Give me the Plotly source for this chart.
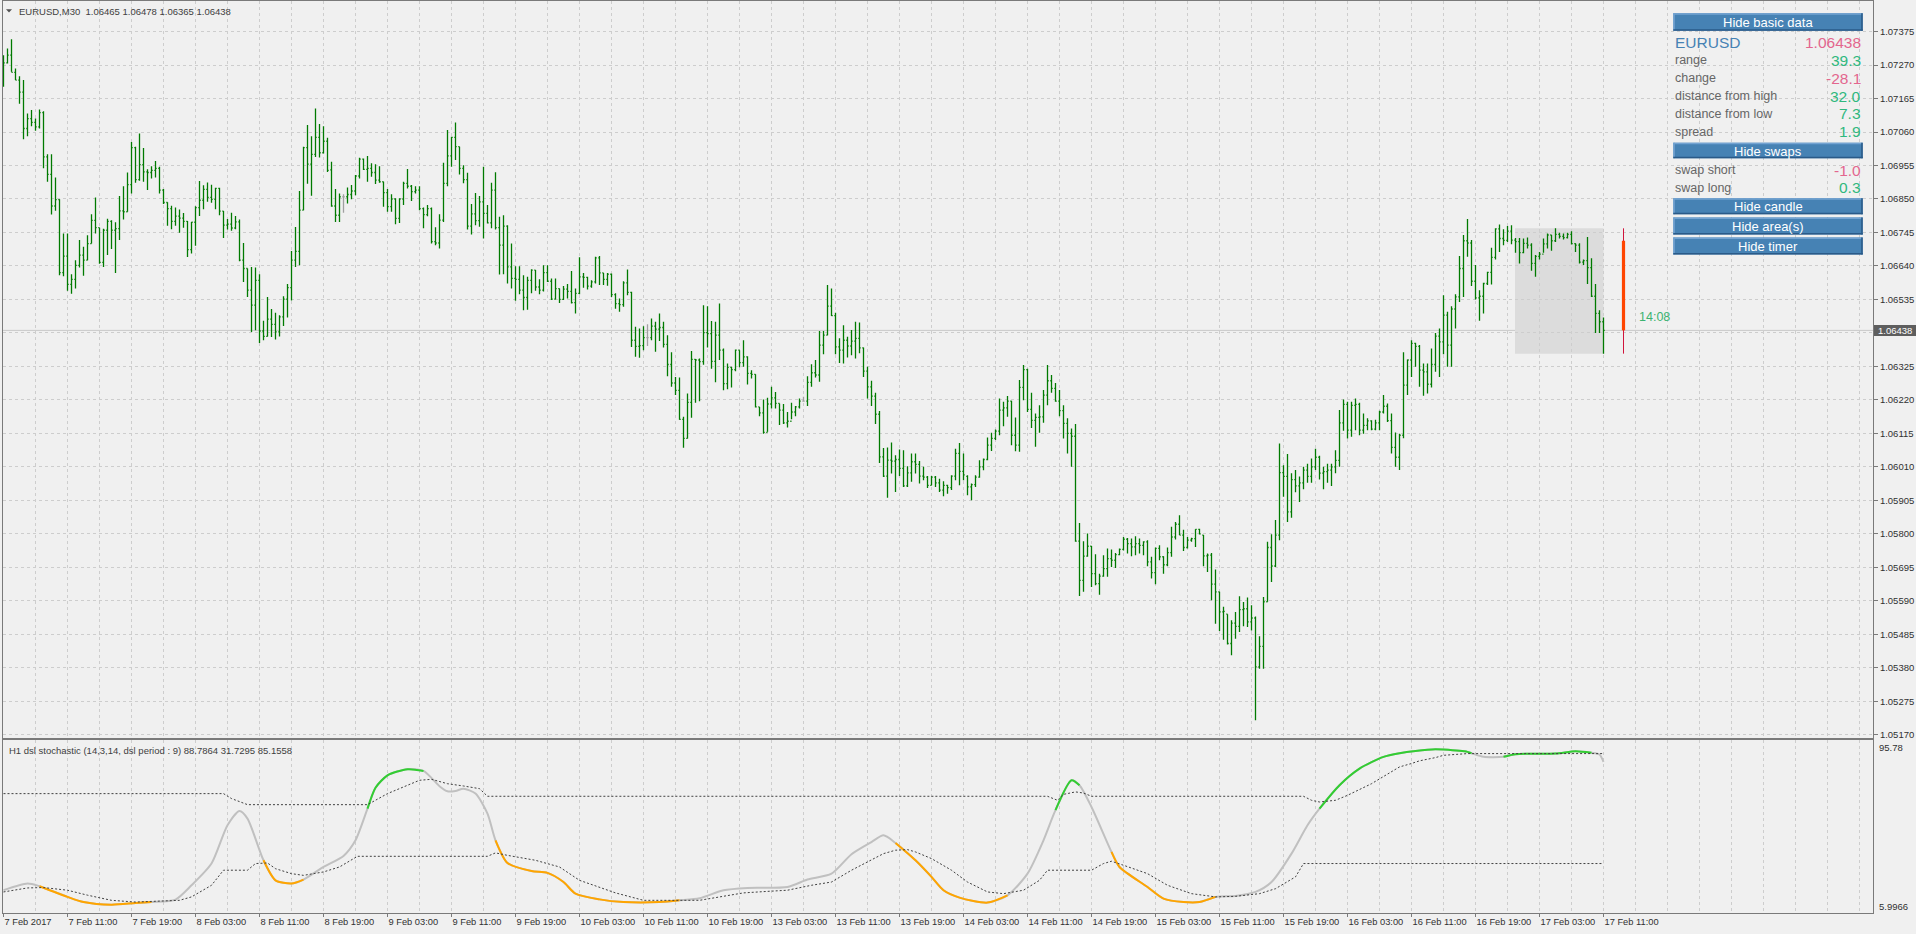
import plotly.graph_objects as go

# ======================= DATA =======================
symbol = "EURUSD"
period = "M30"
header_values = ["1.06465", "1.06478", "1.06365", "1.06438"]

date_label_bars = [0, 16, 32, 48, 64, 80, 96, 112, 128, 144, 160, 176, 192,
                   208, 224, 240, 256, 272, 288, 304, 320, 336, 352, 368, 384, 400]
date_labels = ["7 Feb 2017", "7 Feb 11:00", "7 Feb 19:00", "8 Feb 03:00", "8 Feb 11:00",
               "8 Feb 19:00", "9 Feb 03:00", "9 Feb 11:00", "9 Feb 19:00", "10 Feb 03:00",
               "10 Feb 11:00", "10 Feb 19:00", "13 Feb 03:00", "13 Feb 11:00", "13 Feb 19:00",
               "14 Feb 03:00", "14 Feb 11:00", "14 Feb 19:00", "15 Feb 03:00", "15 Feb 11:00",
               "15 Feb 19:00", "16 Feb 03:00", "16 Feb 11:00", "16 Feb 19:00", "17 Feb 03:00",
               "17 Feb 11:00"]

price_ticks = [1.05170, 1.05275, 1.05380, 1.05485, 1.05590, 1.05695, 1.05800, 1.05905,
               1.06010, 1.06115, 1.06220, 1.06325, 1.06430, 1.06535, 1.06640, 1.06745,
               1.06850, 1.06955, 1.07060, 1.07165, 1.07270, 1.07375]

# M30 bars, prices in points (1e-5)
opens = [
    107254, 107277, 107301, 107247, 107223, 107185, 107071, 107102, 107090, 107076,
    107121, 106982, 106927, 106828, 106848, 106619, 106671, 106582, 106598, 106642,
    106674, 106658, 106710, 106783, 106760, 106651, 106752, 106780, 106752, 106757,
    106813, 106810, 106895, 107011, 106911, 106958, 106935, 106933, 106940, 106946,
    106878, 106839, 106820, 106780, 106796, 106790, 106780, 106691, 106777, 106823,
    106846, 106880, 106855, 106849, 106883, 106812, 106768, 106771, 106759, 106778,
    106658, 106632, 106564, 106517, 106595, 106436, 106419, 106473, 106457, 106433,
    106480, 106536, 106572, 106658, 106686, 106815, 107011, 106959, 106990, 107043,
    106995, 107031, 106941, 106828, 106799, 106857, 106857, 106864, 106875, 106922,
    106975, 106943, 106946, 106933, 106909, 106904, 106870, 106826, 106850, 106789,
    106850, 106899, 106890, 106873, 106878, 106820, 106801, 106820, 106716, 106712,
    106784, 106899, 106985, 107043, 107014, 106946, 106911, 106765, 106803, 106782,
    106841, 106805, 106775, 106878, 106760, 106705, 106765, 106637, 106601, 106598,
    106564, 106541, 106595, 106627, 106574, 106564, 106619, 106592, 106536, 106569,
    106535, 106567, 106560, 106525, 106554, 106606, 106604, 106577, 106590, 106665,
    106618, 106598, 106614, 106550, 106522, 106519, 106587, 106557, 106407, 106388,
    106390, 106415, 106415, 106451, 106442, 106447, 106394, 106331, 106273, 106250,
    106159, 106099, 106212, 106347, 106345, 106340, 106431, 106428, 106341, 106423,
    106376, 106271, 106322, 106315, 106376, 106337, 106355, 106303, 106300, 106198,
    106179, 106118, 106207, 106226, 106209, 106188, 106148, 106153, 106182, 106198,
    106216, 106216, 106275, 106305, 106298, 106392, 106423, 106514, 106484, 106386,
    106376, 106407, 106389, 106404, 106413, 106383, 106310, 106261, 106232, 106175,
    106041, 105981, 106031, 106028, 106033, 106005, 105950, 105991, 106026, 106018,
    105981, 105978, 105952, 105978, 105960, 105937, 105952, 105945, 105981, 106052,
    105996, 105980, 105947, 105954, 105978, 106010, 106033, 106078, 106099, 106122,
    106188, 106195, 106216, 106109, 106078, 106259, 106315, 106190, 106156, 106165,
    106167, 106235, 106280, 106256, 106216, 106186, 106146, 106115, 106106, 105777,
    105654, 105730, 105761, 105675, 105644, 105667, 105691, 105722, 105717, 105735,
    105751, 105783, 105769, 105759, 105769, 105764, 105775, 105712, 105678, 105754,
    105728, 105703, 105741, 105790, 105830, 105796, 105757, 105780, 105785, 105814,
    105796, 105731, 105733, 105642, 105618, 105555, 105548, 105456, 105520, 105510,
    105562, 105565, 105524, 105536, 105383, 105447, 105587, 105757, 105699, 105796,
    105992, 105980, 105869, 105970, 105950, 105960, 106000, 105980, 106010, 106040,
    105990, 105995, 106000, 106010, 106030, 106148, 106206, 106125, 106203, 106206,
    106125, 106140, 106154, 106128, 106148, 106182, 106200, 106155, 106071, 106040,
    106109, 106266, 106345, 106397, 106388, 106313, 106308, 106269, 106331, 106420,
    106402, 106486, 106392, 106505, 106543, 106632, 106719, 106712, 106592, 106540,
    106545, 106585, 106620, 106667, 106756, 106726, 106720, 106749, 106721, 106716,
    106682, 106711, 106705, 106648, 106670, 106677, 106709, 106737, 106719, 106739,
    106733, 106729, 106739, 106710, 106705, 106652, 106657, 106635, 106545, 106491, 106465]
highs = [
    107301, 107322, 107351, 107259, 107235, 107223, 107118, 107129, 107102, 107131,
    107125, 106990, 106990, 106917, 106849, 106742, 106742, 106614, 106658, 106721,
    106700, 106736, 106802, 106855, 106760, 106757, 106788, 106783, 106777, 106859,
    106890, 106933, 107029, 107014, 107055, 107010, 106943, 106953, 106969, 106951,
    106881, 106840, 106829, 106823, 106817, 106806, 106781, 106778, 106827, 106906,
    106893, 106902, 106895, 106885, 106885, 106812, 106787, 106807, 106797, 106786,
    106712, 106632, 106637, 106635, 106614, 106468, 106543, 106505, 106493, 106485,
    106545, 106583, 106687, 106762, 106875, 107014, 107082, 107047, 107134, 107085,
    107078, 107042, 106967, 106881, 106867, 106865, 106886, 106894, 106925, 106979,
    106977, 106985, 106962, 106959, 106953, 106904, 106881, 106865, 106852, 106852,
    106904, 106944, 106894, 106890, 106890, 106823, 106831, 106823, 106761, 106802,
    106964, 107066, 107045, 107090, 107014, 106956, 106932, 106834, 106869, 106859,
    106951, 106831, 106901, 106934, 106794, 106799, 106768, 106710, 106639, 106639,
    106611, 106606, 106630, 106627, 106598, 106642, 106642, 106601, 106601, 106569,
    106577, 106583, 106624, 106569, 106667, 106618, 106606, 106595, 106669, 106671,
    106618, 106618, 106616, 106554, 106538, 106592, 106629, 106559, 106449, 106444,
    106451, 106457, 106475, 106465, 106491, 106465, 106423, 106369, 106292, 106290,
    106167, 106240, 106373, 106348, 106350, 106517, 106514, 106467, 106465, 106522,
    106381, 106334, 106324, 106378, 106376, 106407, 106357, 106313, 106300, 106198,
    106221, 106227, 106261, 106245, 106209, 106207, 106182, 106211, 106201, 106224,
    106230, 106294, 106332, 106345, 106436, 106436, 106580, 106569, 106493, 106413,
    106454, 106418, 106439, 106465, 106463, 106384, 106324, 106280, 106242, 106185,
    106069, 106071, 106086, 106046, 106064, 106062, 106012, 106052, 106052, 106028,
    106010, 105981, 105981, 105981, 105973, 105965, 105954, 105984, 106067, 106085,
    106052, 105984, 105958, 105984, 106031, 106036, 106102, 106117, 106127, 106224,
    106214, 106232, 106217, 106165, 106282, 106329, 106318, 106242, 106177, 106203,
    106251, 106329, 106298, 106273, 106251, 106203, 106162, 106130, 106144, 105834,
    105777, 105801, 105762, 105736, 105675, 105733, 105754, 105751, 105740, 105754,
    105790, 105787, 105785, 105792, 105785, 105777, 105780, 105728, 105757, 105764,
    105730, 105757, 105822, 105837, 105858, 105813, 105790, 105788, 105814, 105816,
    105796, 105738, 105740, 105688, 105618, 105571, 105548, 105529, 105555, 105604,
    105586, 105600, 105576, 105541, 105479, 105602, 105775, 105799, 105843, 106083,
    106015, 106050, 105990, 106000, 105980, 106010, 106020, 106036, 106067, 106045,
    106010, 106020, 106020, 106062, 106188, 106221, 106214, 106214, 106224, 106211,
    106177, 106162, 106156, 106158, 106186, 106235, 106209, 106177, 106118, 106114,
    106369, 106347, 106407, 106399, 106392, 106334, 106334, 106381, 106430, 106444,
    106548, 106496, 106514, 106551, 106671, 106737, 106787, 106721, 106643, 106564,
    106587, 106622, 106697, 106758, 106770, 106755, 106765, 106768, 106728, 106728,
    106726, 106729, 106711, 106674, 106684, 106726, 106742, 106737, 106758, 106744,
    106742, 106744, 106749, 106711, 106711, 106660, 106731, 106664, 106583, 106501, 106478]
lows = [
    107202, 107275, 107249, 107223, 107149, 107037, 107047, 107078, 107064, 107071,
    106946, 106904, 106801, 106813, 106611, 106608, 106562, 106553, 106569, 106635,
    106609, 106658, 106710, 106742, 106647, 106637, 106674, 106693, 106618, 106721,
    106786, 106810, 106867, 106901, 106907, 106904, 106878, 106914, 106917, 106867,
    106834, 106766, 106755, 106766, 106744, 106760, 106668, 106679, 106703, 106797,
    106818, 106841, 106838, 106818, 106799, 106728, 106754, 106750, 106755, 106655,
    106590, 106543, 106433, 106438, 106398, 106407, 106419, 106417, 106409, 106419,
    106452, 106478, 106532, 106637, 106642, 106815, 106898, 106860, 106982, 106980,
    106993, 106935, 106826, 106778, 106778, 106807, 106836, 106849, 106862, 106914,
    106941, 106904, 106920, 106897, 106901, 106826, 106810, 106810, 106771, 106775,
    106831, 106883, 106844, 106867, 106815, 106758, 106796, 106710, 106705, 106695,
    106778, 106890, 106951, 106972, 106927, 106899, 106754, 106739, 106768, 106763,
    106726, 106773, 106758, 106754, 106613, 106614, 106585, 106569, 106531, 106551,
    106501, 106503, 106554, 106562, 106551, 106560, 106590, 106533, 106535, 106524,
    106533, 106538, 106522, 106491, 106551, 106572, 106566, 106572, 106585, 106580,
    106580, 106578, 106543, 106506, 106496, 106512, 106548, 106386, 106355, 106352,
    106376, 106389, 106407, 106371, 106405, 106384, 106294, 106261, 106235, 106158,
    106070, 106099, 106164, 106211, 106216, 106330, 106384, 106318, 106275, 106345,
    106250, 106253, 106259, 106310, 106322, 106324, 106268, 106287, 106196, 106169,
    106114, 106120, 106193, 106193, 106141, 106144, 106133, 106159, 106169, 106193,
    106214, 106201, 106261, 106290, 106277, 106363, 106423, 106483, 106363, 106336,
    106334, 106353, 106360, 106350, 106366, 106292, 106224, 106201, 106144, 106022,
    105978, 105913, 105989, 105931, 105981, 105947, 105947, 105963, 105989, 105958,
    105968, 105944, 105952, 105947, 105931, 105918, 105926, 105937, 105968, 105952,
    105968, 105921, 105905, 105947, 105976, 105999, 106031, 106060, 106094, 106109,
    106137, 106167, 106078, 106059, 106057, 106219, 106182, 106132, 106073, 106117,
    106148, 106203, 106242, 106214, 106169, 106099, 106052, 106010, 105775, 105605,
    105618, 105728, 105633, 105639, 105609, 105665, 105665, 105696, 105693, 105733,
    105748, 105738, 105730, 105733, 105738, 105733, 105698, 105660, 105642, 105717,
    105675, 105698, 105728, 105782, 105796, 105746, 105754, 105775, 105759, 105798,
    105698, 105680, 105592, 105518, 105495, 105468, 105453, 105419, 105471, 105492,
    105510, 105508, 105497, 105215, 105377, 105377, 105587, 105649, 105696, 105780,
    105916, 105837, 105850, 105930, 105900, 105940, 105960, 105960, 106000, 105970,
    105940, 105960, 105950, 105990, 106010, 106123, 106099, 106104, 106125, 106109,
    106114, 106125, 106125, 106125, 106125, 106177, 106151, 106052, 106010, 106000,
    106100, 106235, 106292, 106324, 106261, 106233, 106240, 106259, 106308, 106292,
    106363, 106324, 106324, 106444, 106527, 106543, 106669, 106577, 106535, 106468,
    106491, 106580, 106582, 106660, 106684, 106705, 106715, 106708, 106681, 106648,
    106680, 106695, 106625, 106606, 106660, 106681, 106695, 106688, 106715, 106726,
    106723, 106726, 106707, 106684, 106648, 106643, 106583, 106543, 106430, 106430, 106365]
closes = [
    107277, 107301, 107247, 107223, 107185, 107071, 107102, 107090, 107076, 107121,
    106982, 106927, 106828, 106848, 106619, 106671, 106582, 106598, 106642, 106674,
    106658, 106710, 106783, 106760, 106651, 106752, 106780, 106752, 106757, 106813,
    106810, 106895, 107011, 106911, 106958, 106935, 106933, 106940, 106946, 106878,
    106839, 106820, 106780, 106796, 106790, 106780, 106691, 106777, 106823, 106846,
    106880, 106855, 106849, 106883, 106812, 106768, 106771, 106759, 106778, 106658,
    106632, 106564, 106517, 106595, 106436, 106419, 106473, 106457, 106433, 106480,
    106536, 106572, 106658, 106686, 106815, 107011, 106959, 106990, 107043, 106995,
    107031, 106940, 106828, 106799, 106857, 106857, 106864, 106875, 106922, 106975,
    106943, 106946, 106933, 106909, 106904, 106870, 106826, 106850, 106789, 106850,
    106899, 106890, 106873, 106878, 106820, 106801, 106820, 106716, 106712, 106784,
    106899, 106985, 107043, 107014, 106946, 106911, 106765, 106803, 106782, 106841,
    106805, 106775, 106878, 106760, 106705, 106765, 106637, 106601, 106598, 106564,
    106541, 106595, 106627, 106574, 106564, 106619, 106592, 106536, 106569, 106535,
    106567, 106560, 106525, 106554, 106606, 106604, 106577, 106590, 106665, 106618,
    106598, 106614, 106550, 106522, 106519, 106587, 106557, 106407, 106388, 106390,
    106415, 106415, 106451, 106442, 106447, 106394, 106331, 106273, 106250, 106159,
    106099, 106212, 106347, 106345, 106340, 106431, 106428, 106341, 106423, 106376,
    106271, 106322, 106315, 106376, 106337, 106355, 106303, 106300, 106198, 106179,
    106118, 106207, 106226, 106209, 106188, 106148, 106153, 106182, 106198, 106216,
    106216, 106275, 106305, 106298, 106392, 106423, 106514, 106484, 106386, 106376,
    106407, 106389, 106404, 106413, 106383, 106310, 106261, 106232, 106175, 106041,
    105981, 106031, 106028, 106033, 106005, 105950, 105991, 106026, 106018, 105981,
    105978, 105952, 105978, 105960, 105937, 105952, 105945, 105981, 106052, 105996,
    105985, 105947, 105954, 105978, 106010, 106033, 106078, 106099, 106122, 106188,
    106195, 106216, 106109, 106078, 106259, 106315, 106190, 106156, 106165, 106167,
    106235, 106280, 106256, 106216, 106186, 106146, 106115, 106106, 105777, 105654,
    105730, 105761, 105675, 105644, 105667, 105691, 105722, 105717, 105735, 105751,
    105783, 105769, 105759, 105769, 105764, 105775, 105712, 105678, 105754, 105728,
    105703, 105741, 105790, 105830, 105796, 105757, 105780, 105785, 105814, 105800,
    105731, 105733, 105642, 105618, 105555, 105557, 105456, 105520, 105510, 105562,
    105565, 105524, 105536, 105383, 105447, 105587, 105757, 105699, 105796, 105992,
    105980, 105869, 105970, 105950, 105960, 106000, 105980, 106010, 106040, 105990,
    105995, 106000, 106010, 106030, 106148, 106206, 106125, 106203, 106206, 106125,
    106140, 106154, 106128, 106148, 106182, 106200, 106155, 106071, 106040, 106109,
    106266, 106345, 106397, 106388, 106313, 106308, 106269, 106331, 106420, 106402,
    106486, 106392, 106505, 106543, 106632, 106719, 106712, 106592, 106540, 106545,
    106585, 106620, 106667, 106756, 106726, 106720, 106749, 106721, 106716, 106682,
    106711, 106705, 106648, 106670, 106677, 106709, 106737, 106719, 106739, 106733,
    106729, 106739, 106710, 106705, 106652, 106657, 106635, 106545, 106491, 106465, 106438]

# H1 DSL stochastic (sampled along the bar index)
stoch_bar = [0, 6, 9, 16, 20, 27, 33, 37, 43, 47, 52, 56, 59, 61, 65, 68, 72, 75, 80, 85,
             88, 91, 93, 96, 101, 105, 109, 111, 113, 115, 118, 121, 123, 126, 132, 136, 140, 143, 149, 155,
             164, 169, 174, 180, 186, 196, 201, 207, 212, 217, 220, 223, 228, 232, 235, 239, 246, 251, 256, 260,
             263, 267, 269, 272, 277, 279, 286, 290, 295, 299, 303, 308, 313, 317, 322, 326, 329, 334, 339, 345,
             349, 353, 358, 360, 366, 367, 370, 375, 378, 388, 393, 397, 399, 400]
stoch_val = [17.6, 21.1, 19.7, 14.1, 11.4, 10.0, 10.9, 11.4, 12.7, 20.2,
             31.6, 51.7, 59.2, 55.2, 33.3, 22.8, 21.1, 23.2, 29.8, 35.6,
             43.8, 60.4, 71.4, 77.9, 81.1, 80.2, 72.2, 69.5, 69.7, 70.9,
             68.3, 57.8, 43.8, 31.9, 27.7, 26.7, 21.9, 15.8, 12.8, 11.4,
             11.4, 12.3, 13.4, 17.6, 18.8, 19.3, 23.2, 26.3, 36.5, 42.9,
             46.4, 42.4, 33.3, 24.6, 17.6, 13.7, 11.1, 14.9, 26.3, 43.8,
             59.6, 75.3, 72.7, 61.3, 37.7, 29.8, 19.3, 13.2, 11.4, 11.4,
             14.1, 14.6, 16.7, 21.9, 36.8, 51.7, 60.4, 72.7, 81.4, 87.6,
             89.5, 90.7, 91.6, 91.4, 90.2, 89.5, 87.6, 87.6, 89.0, 89.3,
             90.5, 89.7, 88.8, 84.9]
# state of each segment: s = neutral, o = below lower level, g = above upper level
stoch_state = ("ssooooosss" "ssssooosss" "sggggsssss" "ssoooooooo" "osssssssss"
               "soooooosss" "ggssoooooo" "ssssssgggg" "gggggssggg" "gsss")

upper_bar = [0, 55, 57, 61, 91, 93, 96, 100, 104, 107, 111, 115, 119, 121, 261, 263.5, 265, 268,
             270, 272, 325, 327, 329, 333, 336, 342, 349, 352, 354, 358, 360, 366, 400]
upper_val = [68.3, 68.3, 65.7, 62.5, 62.5, 64.8, 68.3, 71.8, 75.3, 75.8, 73.5, 72.3, 70.9, 66.9,
             66.9, 64.8, 67.9, 69.2, 68.6, 66.9, 66.9, 64.8, 63.9, 64.8, 67.4, 73.5, 82.3, 84.1,
             85.5, 87.2, 88.4, 89.3, 89.3]
lower_bar = [0, 6, 10, 16, 21, 27, 33, 44, 47, 52, 55, 61, 63, 66, 68, 72, 75, 80, 84, 87,
             88.5, 121, 123, 126, 133, 139, 144, 153, 160, 174, 181, 185, 191, 196, 202, 207, 212, 217, 220, 223,
             226, 228, 232, 237, 241, 246, 250, 255, 259, 261, 272, 275, 277, 280, 286, 291, 297, 303, 308, 314,
             318, 323, 325, 400]
lower_val = [16.7, 18.8, 19.0, 17.6, 15.0, 12.3, 11.4, 12.3, 14.1, 20.2,
             28.1, 28.1, 31.6, 31.9, 28.9, 26.3, 25.4, 27.2, 29.8, 33.3,
             35.4, 35.4, 37.2, 35.9, 33.3, 29.8, 22.8, 16.2, 12.3, 12.3,
             14.9, 16.2, 17.0, 17.6, 20.2, 21.9, 28.1, 33.3, 36.8, 38.6,
             38.9, 37.7, 34.2, 28.1, 21.9, 16.7, 15.8, 17.6, 22.8, 28.1,
             28.1, 31.6, 32.8, 30.7, 26.3, 20.2, 15.8, 14.1, 14.4, 15.8,
             18.4, 24.6, 31.6, 31.6]
stoch_title = "H1 dsl stochastic (14,3,14, dsl period : 9) 88.7864 31.7295 85.1558"
stoch_scale_labels = ["95.78", "5.9966"]

# daily candle / today's area
day_open, day_high, day_low = 1.06719, 1.06758, 1.06365
area_first_bar = 378
candle_bar = 405
timer_text = "14:08"
spread, swap_short, swap_long = 1.9, -1.0, 0.3
buttons = ["Hide basic data", "Hide swaps", "Hide candle", "Hide area(s)", "Hide timer"]

# ======================= STYLE / GEOMETRY =======================
W, H = 1916, 934
PL, PR = 3, 1873
PT, PB = 1, 912.7
TOP_BOT_PX, SUB_TOP_PX = 737.5, 740
PH = PB - PT
BG = "#F0F0F0"
GRID = "#CDCDCD"
AXIS = "#7A7A7A"
TXT = "#303030"
GREEN = "#007A00"
DOJI = "#A0A0A0"
FONT = "Liberation Sans, Arial, sans-serif"
PINK = "#E3668E"
VGREEN = "#2FB87E"
STEEL = "#4682B4"


def fx(px):
    return (px - PL) / (PR - PL)


def fy(py):
    return (PB - py) / PH


XR = [-0.125, 467.375]
YR_PRICE = [1.07474 - TOP_BOT_PX * 3.137e-5, 1.07474 - PT * 3.137e-5]
YR_STOCH = [95.78 - (PB - 741) / 1.905, 95.78 + (741 - SUB_TOP_PX) / 1.905]

o = [v / 1e5 for v in opens]
h = [v / 1e5 for v in highs]
l = [v / 1e5 for v in lows]
c = [v / 1e5 for v in closes]
idx = list(range(len(c)))
last = c[-1]

fig = go.Figure()

norm = [i for i in idx if opens[i] != closes[i]]
doji = [i for i in idx if opens[i] == closes[i]]
for sel, col in ((norm, GREEN), (doji, DOJI)):
    fig.add_trace(go.Ohlc(
        x=[idx[i] for i in sel], open=[o[i] for i in sel], high=[h[i] for i in sel],
        low=[l[i] for i in sel], close=[c[i] for i in sel],
        increasing=dict(line=dict(color=col, width=1.3)),
        decreasing=dict(line=dict(color=col, width=1.3)),
        tickwidth=0.3, hoverinfo="skip", xaxis="x", yaxis="y", showlegend=False))

# stochastic main line (gray base + coloured runs)
fig.add_trace(go.Scatter(x=stoch_bar, y=stoch_val, mode="lines", xaxis="x2", yaxis="y2",
                         line=dict(color="#C0C0C0", width=2, shape="spline", smoothing=0.7),
                         hoverinfo="skip", showlegend=False))
n = len(stoch_bar)
i = 0
while i < n - 1:
    s = stoch_state[i]
    if s in "og":
        j = i
        while j < n - 1 and stoch_state[j] == s:
            j += 1
        fig.add_trace(go.Scatter(x=stoch_bar[i:j + 1], y=stoch_val[i:j + 1], mode="lines",
                                 xaxis="x2", yaxis="y2", hoverinfo="skip", showlegend=False,
                                 line=dict(color="#FFA500" if s == "o" else "#32CD32", width=2,
                                           shape="spline", smoothing=0.7)))
        i = j
    else:
        i += 1
for xb, yv in ((upper_bar, upper_val), (lower_bar, lower_val)):
    fig.add_trace(go.Scatter(x=xb, y=yv, mode="lines", xaxis="x2", yaxis="y2",
                             line=dict(color="#404040", width=1, dash="2px,2px"),
                             hoverinfo="skip", showlegend=False))

shapes = []
# today's area box
shapes.append(dict(type="rect", xref="x", yref="y", x0=area_first_bar - 0.125, x1=idx[-1],
                   y0=day_low, y1=day_high, fillcolor="#DCDCDC", line=dict(width=0), layer="below"))
# current price line
shapes.append(dict(type="line", xref="paper", yref="y", x0=0, x1=1, y0=last, y1=last,
                   line=dict(color="#C8C8C8", width=1), layer="below"))
# daily candle
shapes.append(dict(type="line", xref="x", yref="y", x0=candle_bar, x1=candle_bar, y0=day_low, y1=day_high,
                   line=dict(color="#D0143C", width=1)))
shapes.append(dict(type="rect", xref="x", yref="y", x0=candle_bar - 0.4, x1=candle_bar + 0.4,
                   y0=last, y1=day_open, fillcolor="#FF4500", line=dict(width=0)))
# header triangle
shapes.append(dict(type="path", xref="paper", yref="paper",
                   path=f"M {fx(6)} {fy(9.3)} L {fx(12)} {fy(9.3)} L {fx(9)} {fy(12.5)} Z",
                   fillcolor="#505050", line=dict(width=0)))
# current price box on axis
shapes.append(dict(type="rect", xref="paper", yref="paper", x0=fx(1874), x1=fx(1916),
                   y0=fy(336), y1=fy(325), fillcolor="#5E5E5E", line=dict(width=0)))

annotations = []


def txt(x, y, t, size, color, xanchor="left", family=FONT):
    annotations.append(dict(xref="paper", yref="paper", x=fx(x), y=fy(y), text=t, showarrow=False,
                            xanchor=xanchor, yanchor="middle", font=dict(family=family, size=size, color=color)))


txt(17, 11, f"{symbol},{period}  " + " ".join(header_values), 9.5, "#404040")
txt(7, 750, stoch_title, 9.5, "#404040")
txt(1877, 747.7, stoch_scale_labels[0], 9.5, TXT)
txt(1877, 906.7, stoch_scale_labels[1], 9.5, TXT)
txt(1876, 330.5, f"{last:.5f}", 9.5, "#FFFFFF")
annotations.append(dict(xref="x", yref="y", x=candle_bar + 3.4, y=1.06480, text=timer_text, showarrow=False,
                        xanchor="left", yanchor="middle", font=dict(family=FONT, size=12.5, color="#3CB371")))

# info panel
BX0, BX1 = 1673.3, 1862.7
btn_rows = [(13.3, 30.7), (142.7, 158.3), (198.3, 214.3), (217.5, 234.3), (237.3, 254.3)]
for label, (y0, y1) in zip(buttons, btn_rows):
    shapes.append(dict(type="rect", xref="paper", yref="paper", x0=fx(BX0), x1=fx(BX1), y0=fy(y1), y1=fy(y0),
                       fillcolor=STEEL, line=dict(width=0)))
    shapes.append(dict(type="rect", xref="paper", yref="paper", x0=fx(BX0), x1=fx(BX1), y0=fy(y0 + 1.5),
                       y1=fy(y0), fillcolor="#73A3D2", line=dict(width=0)))
    shapes.append(dict(type="rect", xref="paper", yref="paper", x0=fx(BX0), x1=fx(BX0 + 1.5), y0=fy(y1),
                       y1=fy(y0), fillcolor="#73A3D2", line=dict(width=0)))
    shapes.append(dict(type="rect", xref="paper", yref="paper", x0=fx(BX0), x1=fx(BX1), y0=fy(y1),
                       y1=fy(y1 - 1.5), fillcolor="#2A5A88", line=dict(width=0)))
    shapes.append(dict(type="rect", xref="paper", yref="paper", x0=fx(BX1 - 1.5), x1=fx(BX1), y0=fy(y1),
                       y1=fy(y0), fillcolor="#2A5A88", line=dict(width=0)))
    txt((BX0 + BX1) / 2, (y0 + y1) / 2 + 0.5, label, 13, "#FFFFFF", xanchor="center")

change = (last - day_open) * 1e4
txt(BX0, 42.3, symbol, 15.5, STEEL)
txt(BX1, 42.3, f"{last:.5f}", 15.5, PINK if change < 0 else VGREEN, xanchor="right")
rows = [("range", (day_high - day_low) * 1e4, 60.0),
        ("change", change, 78.3),
        ("distance from high", (day_high - last) * 1e4, 96.0),
        ("distance from low", (last - day_low) * 1e4, 113.5),
        ("spread", spread, 131.7),
        ("swap short", swap_short, 170.0),
        ("swap long", swap_long, 187.7)]
for name, val, yy in rows:
    txt(BX0, yy, name, 12.5, "#666666")
    txt(BX1, yy, f"{val:.1f}", 15.5, PINK if val < 0 else VGREEN, xanchor="right")

grid_common = dict(showgrid=True, gridcolor=GRID, gridwidth=1, griddash="3px,3px")
minor = dict(tick0=0, dtick=8, showgrid=True, gridcolor=GRID, gridwidth=1, griddash="3px,3px")
price_text = ["" if abs(p - 1.06430) < 1e-9 else f"{p:.5f}" for p in price_ticks]

fig.update_layout(
    width=W, height=H, margin=dict(l=PL, r=W - PR, t=PT, b=H - PB, pad=0, autoexpand=False),
    paper_bgcolor=BG, plot_bgcolor=BG, showlegend=False, hovermode=False,
    shapes=shapes, annotations=annotations,
    xaxis=dict(domain=[0, 1], range=XR, anchor="y", tickmode="array", tickvals=date_label_bars,
               showticklabels=False, ticks="", zeroline=False, showline=True, linecolor=AXIS,
               mirror=True, rangeslider=dict(visible=False), minor=minor, fixedrange=True,
               automargin=False, **grid_common),
    yaxis=dict(domain=[fy(TOP_BOT_PX), 1], range=YR_PRICE, side="right", anchor="x",
               tickmode="array", tickvals=price_ticks, ticktext=price_text, ticks="outside", ticklen=4,
               tickcolor=AXIS, tickfont=dict(family=FONT, size=9.5, color=TXT), zeroline=False,
               showline=True, linecolor=AXIS, mirror=True, fixedrange=True, automargin=False,
               **grid_common),
    xaxis2=dict(domain=[0, 1], range=XR, anchor="y2", matches="x", tickmode="array",
                tickvals=date_label_bars, ticktext=date_labels, ticks="outside", ticklen=3, tickcolor=AXIS,
                ticklabelposition="outside right", tickangle=0,
                tickfont=dict(family=FONT, size=9.3, color=TXT),
                zeroline=False, showline=True, linecolor=AXIS, mirror=True, minor=minor,
                rangeslider=dict(visible=False), fixedrange=True, automargin=False, **grid_common),
    yaxis2=dict(domain=[0, fy(SUB_TOP_PX)], range=YR_STOCH, side="right", anchor="x2",
                showgrid=False, showticklabels=False, ticks="", zeroline=False, showline=True,
                linecolor=AXIS, mirror=True, fixedrange=True, automargin=False),
)

fig.write_html("out.html", config={"displayModeBar": False},
               post_script="document.body.style.margin='0';document.body.style.overflow='hidden';")
